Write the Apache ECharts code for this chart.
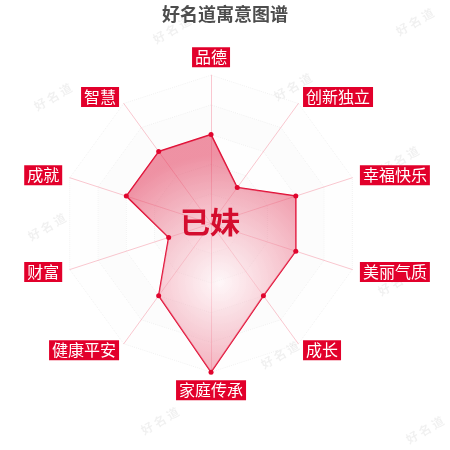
<!DOCTYPE html>
<html>
<head>
<meta charset="utf-8">
<script src="https://cdn.jsdelivr.net/npm/echarts@6/dist/echarts.min.js"></script>
<style>
html,body{margin:0;padding:0;background:#fff;}
#main{width:450px;height:450px;}
</style>
</head>
<body>
<div id="main"></div>
<script>
// clockwise order starting from the top
var indicatorNames = ['品德', '创新独立', '幸福快乐', '美丽气质', '成长', '家庭传承', '健康平安', '财富', '成就', '智慧'];
var indicatorMax = 100;
var seriesValues = [60, 30, 60, 60, 60, 100, 60, 30, 60, 60];
var titleText = '好名道寓意图谱';
var nameText = '已妹';
var watermarkText = '好名道';
var watermarkSpots = [[172,30],[415,22],[53,97],[293,87],[47,227],[280,355],[160,421],[400,160],[397,282],[425,430]];

// ECharts radar runs counter-clockwise: reorder (keep first, reverse the rest)
function toCCW(arr) { return [arr[0]].concat(arr.slice(1).reverse()); }

var FONT = '"Noto Sans CJK SC", "Noto Sans", sans-serif';
var chart = echarts.init(document.getElementById('main'));

var wm = watermarkSpots.map(function (p) {
  return {
    type: 'text', x: p[0], y: p[1], rotation: Math.PI / 6, z: -1,
    style: {
      text: watermarkText.split('').join(' '), fill: 'rgba(0,0,0,0.06)',
      font: 'bold 12px ' + FONT, align: 'center', verticalAlign: 'middle'
    }
  };
});
wm.push({
  type: 'text', x: 210, y: 222, z: 100,
  style: {
    text: nameText, fill: '#d40d2e', font: 'bold 30px ' + FONT,
    align: 'center', verticalAlign: 'middle'
  }
});

chart.setOption({
  animation: false,
  title: {
    text: titleText, left: 'center', top: 0,
    textStyle: { fontSize: 18, fontWeight: 'bold', color: '#4d4d4d', fontFamily: FONT }
  },
  graphic: wm,
  radar: {
    center: ['46.9%', '49.7%'],
    radius: '66%',
    startAngle: 90,
    splitNumber: 5,
    nameGap: 8,
    indicator: toCCW(indicatorNames).map(function (n) { return { name: n, max: indicatorMax }; }),
    axisName: {
      color: '#fff', backgroundColor: '#e2002b', padding: [2, 3],
      fontSize: 16, fontFamily: FONT
    },
    axisLine: { lineStyle: { color: 'rgba(230,0,40,0.22)' } },
    splitLine: { lineStyle: { color: 'rgba(0,0,0,0.06)', type: 'dotted' } },
    splitArea: { areaStyle: { color: ['rgba(0,0,0,0.004)', 'rgba(0,0,0,0.012)'] } }
  },
  series: [{
    type: 'radar',
    symbol: 'circle', symbolSize: 5,
    data: [{ value: toCCW(seriesValues) }],
    itemStyle: { color: '#e0062e' },
    lineStyle: { color: '#e0062e', width: 1.5 },
    areaStyle: {
      color: {
        type: 'radial', x: 0.55, y: 0.62, r: 0.75,
        colorStops: [
          { offset: 0, color: 'rgba(255,240,243,0.7)' },
          { offset: 1, color: 'rgba(226,60,92,0.8)' }
        ]
      }
    }
  }]
});
</script>
</body>
</html>
